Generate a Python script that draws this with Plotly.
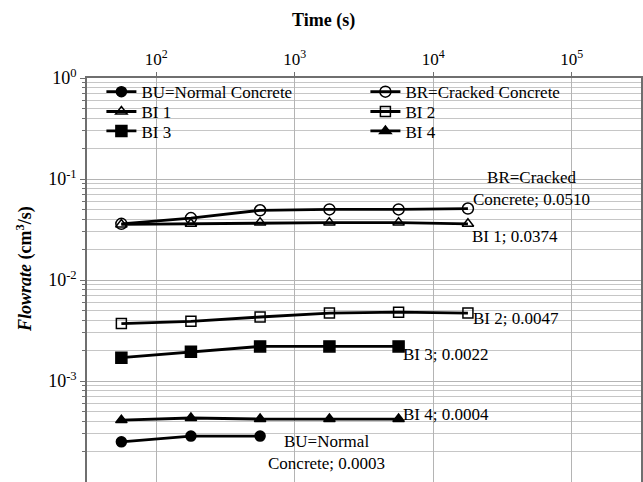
import math
import plotly.graph_objects as go

# ---- data ----
time_s = [56, 178, 562, 1780, 5620, 17800]
bu_flow = [0.00025, 0.000285, 0.000285]
br_flow = [0.036, 0.041, 0.049, 0.050, 0.050, 0.051]
bi1_flow = [0.0355, 0.036, 0.037, 0.037, 0.037, 0.036]
bi2_flow = [0.0037, 0.0039, 0.0043, 0.0047, 0.0048, 0.0047]
bi3_flow = [0.0017, 0.00195, 0.0022, 0.0022, 0.0022]
bi4_flow = [0.00041, 0.00043, 0.00042, 0.00042, 0.00042]

series_names = ["BU=Normal Concrete", "BR=Cracked Concrete", "BI 1", "BI 2", "BI 3", "BI 4"]
series_values = [bu_flow, br_flow, bi1_flow, bi2_flow, bi3_flow, bi4_flow]
end_labels = ["BU=Normal<br>Concrete; 0.0003", "BR=Cracked<br>Concrete; 0.0510",
              "BI 1; 0.0374", "BI 2; 0.0047", "BI 3; 0.0022", "BI 4; 0.0004"]

x_tickvals = [1e2, 1e3, 1e4, 1e5]
x_ticktext = ["10<sup>2</sup>", "10<sup>3</sup>", "10<sup>4</sup>", "10<sup>5</sup>"]
y_tickvals = [1e-4, 1e-3, 1e-2, 1e-1, 1e0]
y_ticktext = ["10<sup>-4</sup>", "10<sup>-3</sup>", "10<sup>-2</sup>", "10<sup>-1</sup>", "10<sup>0</sup>"]
y_minorvals = [m * d for d in (1e-4, 1e-3, 1e-2, 1e-1) for m in range(2, 10)]

# ---- styles ----
symbols = ["circle", "circle-open", "triangle-up-open", "square-open", "square", "triangle-up"]
sizes = [10, 11, 10, 10, 11, 10]
legend_ids = ["legend", "legend", "legend2", "legend2", "legend3", "legend3"]
# (xanchor, xshift, yshift) for the end labels
label_pos = [("center", 66, -16), ("center", 64, 20), ("left", 2, -13),
             ("left", 3, -5), ("left", 2, -8), ("left", 2, 5)]

FONT = "Liberation Serif"

fig = go.Figure()
for name, vals, sym, sz, lg in zip(series_names, series_values, symbols, sizes, legend_ids):
    fig.add_trace(go.Scatter(
        x=time_s[:len(vals)], y=vals, name=name, mode="lines+markers",
        line=dict(color="black", width=2.8), legend=lg,
        marker=dict(symbol=sym, size=sz, color="black",
                    line=dict(color="black", width=1.5)),
    ))

for vals, txt, (xa, xs, ys) in zip(series_values, end_labels, label_pos):
    fig.add_annotation(
        x=math.log10(time_s[len(vals) - 1]), y=math.log10(vals[-1]),
        xref="x", yref="y", text=txt, showarrow=False,
        xanchor=xa, yanchor="middle", xshift=xs, yshift=ys, align="center",
        font=dict(family=FONT, size=17, color="black"),
    )

# axis titles
fig.add_annotation(x=0.427, y=1, xref="paper", yref="paper", yshift=58,
                   text="<b>Time (s)</b>", showarrow=False,
                   font=dict(family=FONT, size=18, color="black"),
                   xanchor="center", yanchor="middle")
fig.add_annotation(x=0, y=0.527, xref="paper", yref="paper", xshift=-62,
                   text="<b><i>Flowrate</i> (cm<sup>3</sup>/s)</b>", showarrow=False,
                   textangle=-90,
                   font=dict(family=FONT, size=18, color="black"),
                   xanchor="center", yanchor="middle")

grid = "#b4b4b4"
minor_grid = "#c6c6c6"
axis_line = "#6f6f6f"

def legend_row(ypos):
    return dict(orientation="h", x=0.026, y=ypos, xanchor="left", yanchor="middle",
                entrywidth=219, entrywidthmode="pixels",
                bgcolor="rgba(0,0,0,0)",
                font=dict(family=FONT, size=17, color="black"),
                itemwidth=30)

fig.update_layout(
    width=643, height=482,
    margin=dict(l=87, r=2, t=78, b=0),
    paper_bgcolor="white", plot_bgcolor="white",
    font=dict(family=FONT, size=17, color="black"),
    showlegend=True, hovermode=False,
    legend=legend_row(0.965),
    legend2=legend_row(0.916),
    legend3=legend_row(0.868),
    xaxis=dict(type="log", range=[1.5, 5.5], side="top",
               tickmode="array", tickvals=x_tickvals, ticktext=x_ticktext,
               showgrid=True, gridcolor=grid, gridwidth=1,
               showline=True, linecolor=axis_line, linewidth=1.5, mirror=True,
               ticks="outside", ticklen=4, tickcolor=axis_line, automargin=False,
               tickfont=dict(family=FONT, size=17, color="black"), zeroline=False),
    yaxis=dict(type="log", range=[-4, 0],
               tickmode="array", tickvals=y_tickvals, ticktext=y_ticktext,
               showgrid=True, gridcolor=grid, gridwidth=1,
               showline=True, linecolor=axis_line, linewidth=1.5, mirror=True,
               ticks="outside", ticklen=5, tickcolor=axis_line, automargin=False,
               minor=dict(tickmode="array", tickvals=y_minorvals, showgrid=True,
                          gridcolor=minor_grid, gridwidth=1,
                          ticks="outside", ticklen=3, tickcolor=axis_line),
               tickfont=dict(family=FONT, size=18, color="black"), zeroline=False),
)

fig.write_html("out.html", config={"displayModeBar": False},
               post_script="document.body.style.margin='0';document.body.style.overflow='hidden';")
